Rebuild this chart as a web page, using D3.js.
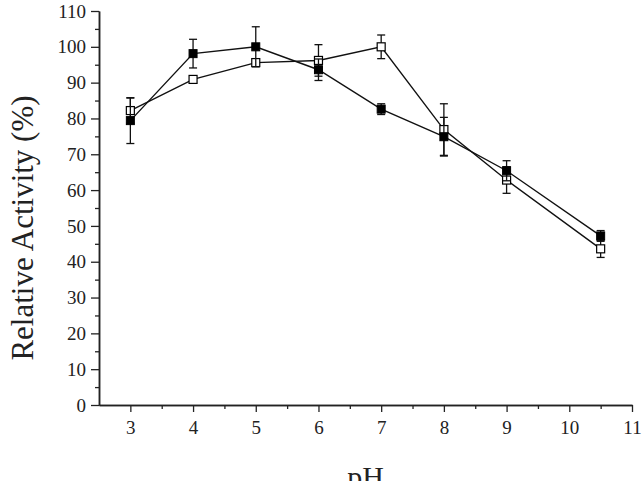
<!DOCTYPE html>
<html>
<head>
<meta charset="utf-8">
<script src="https://cdn.jsdelivr.net/npm/d3@7"></script>
<style>
  html, body { margin: 0; padding: 0; background: #fff; }
  svg { display: block; }
  text { font-family: "Liberation Serif", "Times New Roman", serif; fill: #222; }
</style>
</head>
<body>
<svg id="chart" width="644" height="481"></svg>
<script>
// ---- data ----
const pH = [3, 4, 5, 6, 7, 8, 9, 10.5];
const filledValues = [79.4, 98.1, 100.0, 93.6, 82.6, 74.9, 65.4, 47.2];
const filledErrors = [6.4, 4.0, 5.6, 3.0, 1.5, 5.4, 2.8, 1.5];
const openValues = [82.2, 90.9, 95.6, 96.2, 100.0, 76.9, 62.8, 43.6];
const openErrors = [3.5, 1.0, 1.0, 4.4, 3.3, 7.2, 3.7, 2.4];
const xTicks = [3, 4, 5, 6, 7, 8, 9, 10, 11];
const xMinorTicks = [3.5, 4.5, 5.5, 6.5, 7.5, 8.5, 9.5, 10.5];
const yTicks = [0, 10, 20, 30, 40, 50, 60, 70, 80, 90, 100, 110];
const yMinorTicks = [5, 15, 25, 35, 45, 55, 65, 75, 85, 95, 105];
const xTitle = "pH";
const yTitle = "Relative Activity (%)";

// ---- layout ----
const svg = d3.select("#chart");
const x = d3.scaleLinear().domain([2.5, 11]).range([99, 632]);
const y = d3.scaleLinear().domain([0, 110]).range([405, 11]);

// axes
const axisColor = "#222";
const gx = svg.append("g").attr("transform", `translate(0,${y(0)})`)
  .call(d3.axisBottom(x).tickValues(xTicks).tickFormat(d3.format("d")).tickSize(7).tickSizeOuter(0).tickPadding(9));
const gxm = svg.append("g").attr("transform", `translate(0,${y(0)})`)
  .call(d3.axisBottom(x).tickValues(xMinorTicks).tickFormat("").tickSize(4).tickSizeOuter(0));
const gy = svg.append("g").attr("transform", `translate(${x(2.5)},0)`)
  .call(d3.axisLeft(y).tickValues(yTicks).tickFormat(d3.format("d")).tickSize(8).tickSizeOuter(0).tickPadding(5));
const gym = svg.append("g").attr("transform", `translate(${x(2.5)},0)`)
  .call(d3.axisLeft(y).tickValues(yMinorTicks).tickFormat("").tickSize(4).tickSizeOuter(0));

[gx, gxm, gy, gym].forEach(g => {
  g.selectAll("path.domain").attr("stroke", axisColor).attr("stroke-width", 1.5);
  g.selectAll(".tick line").attr("stroke", axisColor).attr("stroke-width", 1.3);
  g.selectAll(".tick text").attr("font-family", "Liberation Serif, Times New Roman, serif")
    .attr("font-size", 19).attr("fill", "#222");
});

// titles
svg.append("text")
  .attr("x", (x(2.5) + x(11)) / 2).attr("y", 487)
  .attr("text-anchor", "middle").attr("font-size", 30)
  .text(xTitle);
svg.append("text")
  .attr("transform", `translate(33,228) rotate(-90)`)
  .attr("text-anchor", "middle").attr("font-size", 31)
  .text(yTitle);

// series
function drawSeries(vals, errs, filled) {
  const data = pH.map((p, i) => ({ p, v: vals[i], e: errs[i] }));
  const g = svg.append("g");
  g.append("path").datum(data)
    .attr("fill", "none").attr("stroke", "#111").attr("stroke-width", 1.4)
    .attr("d", d3.line().x(d => x(d.p)).y(d => y(d.v)));
  const eb = g.selectAll(".eb").data(data).enter().append("g");
  const cap = 4;
  eb.append("line").attr("x1", d => x(d.p)).attr("x2", d => x(d.p))
    .attr("y1", d => y(d.v - d.e)).attr("y2", d => y(d.v + d.e))
    .attr("stroke", "#111").attr("stroke-width", 1.3);
  eb.append("line").attr("x1", d => x(d.p) - cap).attr("x2", d => x(d.p) + cap)
    .attr("y1", d => y(d.v + d.e)).attr("y2", d => y(d.v + d.e))
    .attr("stroke", "#111").attr("stroke-width", 1.3);
  eb.append("line").attr("x1", d => x(d.p) - cap).attr("x2", d => x(d.p) + cap)
    .attr("y1", d => y(d.v - d.e)).attr("y2", d => y(d.v - d.e))
    .attr("stroke", "#111").attr("stroke-width", 1.3);
  const s = 8;
  g.selectAll(".m").data(data).enter().append("rect")
    .attr("x", d => x(d.p) - s / 2).attr("y", d => y(d.v) - s / 2)
    .attr("width", s).attr("height", s)
    .attr("fill", filled ? "#000" : "#fff")
    .attr("stroke", "#000").attr("stroke-width", filled ? 1 : 1.2);
}
drawSeries(openValues, openErrors, false);
drawSeries(filledValues, filledErrors, true);
</script>
</body>
</html>
